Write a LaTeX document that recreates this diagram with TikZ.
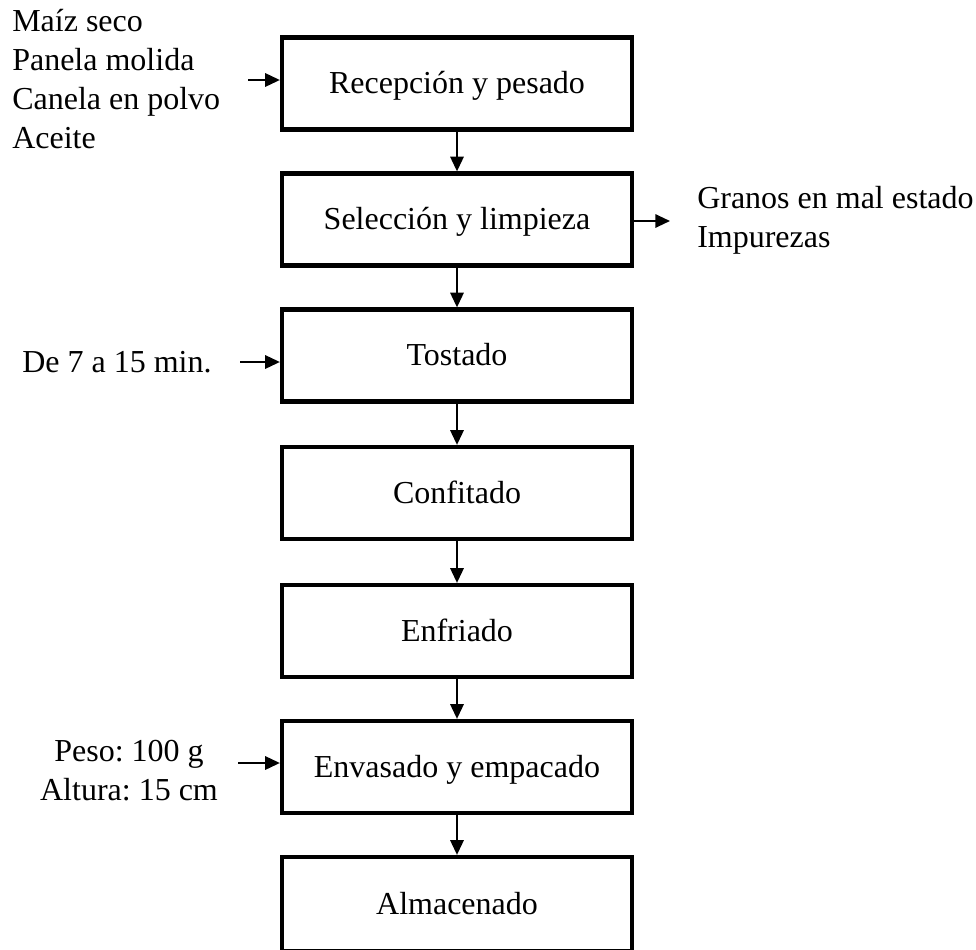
\documentclass[tikz,border=0pt]{standalone}
\usepackage{fontspec}
\setmainfont{Liberation Serif}
\usetikzlibrary{arrows.meta}
\frenchspacing
\begin{document}
\begin{tikzpicture}[x=0.75pt,y=-0.75pt,
  stepbox/.style={draw, line width=3.2pt, minimum width=262.5pt, minimum height=69pt, inner sep=0pt, text height=19pt, text depth=4pt, font=\fontsize{24}{29.25}\selectfont},
  lbl/.style={inner sep=0pt, font=\fontsize{24}{29.25}\selectfont},
  flow/.style={line width=1.5pt, -{Triangle[length=11pt,width=10pt]}}]
\useasboundingbox (0,0) rectangle (976,950);
\node[stepbox] (s1) at (457,83.5) {Recepción y pesado};
\node[stepbox] (s2) at (457,219.5) {Selección y limpieza};
\node[stepbox] (s3) at (457,355.5) {Tostado};
\node[stepbox] (s4) at (457,493) {Confitado};
\node[stepbox] (s5) at (457,631) {Enfriado};
\node[stepbox] (s6) at (457,767) {Envasado y empacado};
\node[stepbox, minimum height=70.5pt] (s7) at (457,904) {Almacenado};
\draw[flow] (s1) -- (s2);
\draw[flow] (s2) -- (s3);
\draw[flow] (s3) -- (s4);
\draw[flow] (s4) -- (s5);
\draw[flow] (s5) -- (s6);
\draw[flow] (s6) -- (s7);
\node[lbl, anchor=west, align=left] (t1) at (12,79) {Maíz seco\\Panela molida\\Canela en polvo\\Aceite};
\coordinate (i1) at (248,80);
\draw[flow] (i1) -- (i1 -| s1.west);
\node[lbl, anchor=west, align=left] (t2) at (697,220) {Granos en mal estado\\Impurezas};
\coordinate (o2) at (670,221);
\draw[flow] (o2 -| s2.east) -- (o2);
\node[lbl, anchor=west] (t3) at (22,362) {De 7 a 15 min.};
\coordinate (i3) at (240,362);
\draw[flow] (i3) -- (i3 -| s3.west);
\node[lbl, align=center] (t6) at (129,771) {Peso: 100 g\\Altura: 15 cm};
\coordinate (i6) at (238,763);
\draw[flow] (i6) -- (i6 -| s6.west);
\end{tikzpicture}
\end{document}
